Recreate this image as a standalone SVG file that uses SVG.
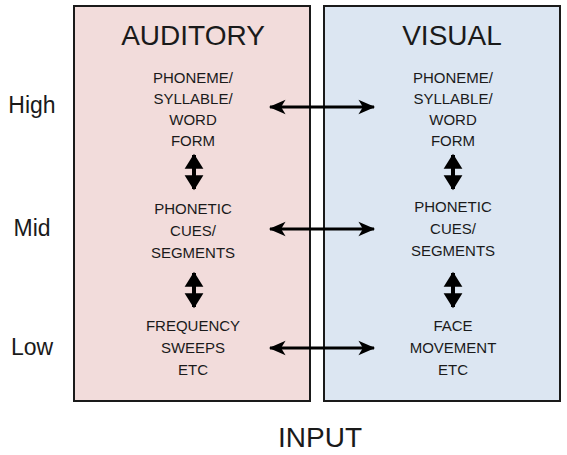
<svg xmlns="http://www.w3.org/2000/svg" width="567" height="455" viewBox="0 0 567 455">
<style>
.box{stroke:#1a1a1a;stroke-width:2}
.t{font-family:"Liberation Sans",Arial,sans-serif;fill:#1a1a1a;text-anchor:middle}
.title{font-size:28px}
.lbl{font-size:15px}
.side{font-size:23px}
.h{stroke:#000;stroke-width:3;fill:none}
.v{stroke:#000;stroke-width:4;fill:none}
</style>
<defs>
<marker id="ah" markerUnits="userSpaceOnUse" markerWidth="20" markerHeight="20" viewBox="-16 -8 18 16" refX="0" refY="0" orient="auto-start-reverse">
<path d="M1,0 L-14,-6.5 L-10,0 L-14,6.5 Z" fill="#000"/>
</marker>
<marker id="av" markerUnits="userSpaceOnUse" markerWidth="20" markerHeight="20" viewBox="-14 -8 16 16" refX="0" refY="0" orient="auto-start-reverse">
<path d="M1,0 L-11,-7.5 L-11,7.5 Z" fill="#000"/>
</marker>
</defs>
<rect width="567" height="455" fill="#fff"/>
<g id="auditory">
<rect class="box" x="74" y="6" width="236" height="395" fill="#f2dcdb"/>
<text class="t title" x="193" y="45">AUDITORY</text>
</g>
<g id="visual">
<rect class="box" x="324" y="6" width="236" height="395" fill="#dce6f2"/>
<text class="t title" x="452" y="45">VISUAL</text>
</g>
<g id="a-high"><text class="t lbl" x="193" y="83">PHONEME/</text><text class="t lbl" x="193" y="104">SYLLABLE/</text><text class="t lbl" x="193" y="125">WORD</text><text class="t lbl" x="193" y="146">FORM</text></g>
<g id="a-mid"><text class="t lbl" x="193" y="214">PHONETIC</text><text class="t lbl" x="193" y="236">CUES/</text><text class="t lbl" x="193" y="258">SEGMENTS</text></g>
<g id="a-low"><text class="t lbl" x="193" y="331">FREQUENCY</text><text class="t lbl" x="193" y="353">SWEEPS</text><text class="t lbl" x="193" y="375">ETC</text></g>
<g id="v-high"><text class="t lbl" x="453" y="83">PHONEME/</text><text class="t lbl" x="453" y="104">SYLLABLE/</text><text class="t lbl" x="453" y="125">WORD</text><text class="t lbl" x="453" y="146">FORM</text></g>
<g id="v-mid"><text class="t lbl" x="453" y="212">PHONETIC</text><text class="t lbl" x="453" y="234">CUES/</text><text class="t lbl" x="453" y="256">SEGMENTS</text></g>
<g id="v-low"><text class="t lbl" x="453" y="331">FACE</text><text class="t lbl" x="453" y="353">MOVEMENT</text><text class="t lbl" x="453" y="375">ETC</text></g>
<g id="levels">
<text class="t side" x="32" y="113">High</text>
<text class="t side" x="32" y="236">Mid</text>
<text class="t side" x="32" y="355">Low</text>
</g>
<g id="input"><text class="t title" x="320" y="447">INPUT</text></g>
<g id="connectors">
<line class="h" x1="270" y1="107" x2="374" y2="107" marker-start="url(#ah)" marker-end="url(#ah)"/>
<line class="h" x1="270" y1="229" x2="374" y2="229" marker-start="url(#ah)" marker-end="url(#ah)"/>
<line class="h" x1="270" y1="348" x2="374" y2="348" marker-start="url(#ah)" marker-end="url(#ah)"/>
<line class="v" x1="194" y1="155" x2="194" y2="189" marker-start="url(#av)" marker-end="url(#av)"/>
<line class="v" x1="194" y1="273" x2="194" y2="307" marker-start="url(#av)" marker-end="url(#av)"/>
<line class="v" x1="453" y1="155" x2="453" y2="189" marker-start="url(#av)" marker-end="url(#av)"/>
<line class="v" x1="453" y1="273" x2="453" y2="307" marker-start="url(#av)" marker-end="url(#av)"/>
</g>
</svg>
